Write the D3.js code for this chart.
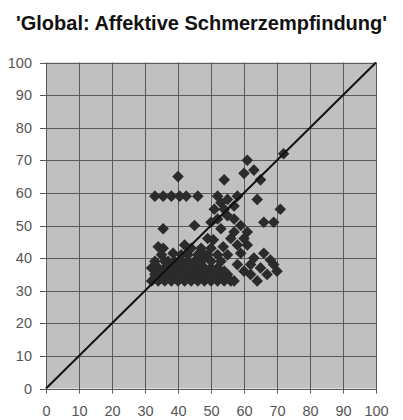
<!DOCTYPE html>
<html>
<head>
<meta charset="utf-8">
<script src="https://cdn.jsdelivr.net/npm/d3@7/dist/d3.min.js"></script>
<style>
  html, body { margin: 0; padding: 0; background: #fff; }
  svg { display: block; }
</style>
</head>
<body>
<div id="chart"></div>
<script>
// Title and axis ticks
const title = "'Global: Affektive Schmerzempfindung'";
const tickValues = [0, 10, 20, 30, 40, 50, 60, 70, 80, 90, 100];

// Scatter values: x = first rating, y = second rating
const xValues = [
  40, 33, 35.5, 38, 40.5, 42.5, 46,
  54, 61, 72, 60, 63, 65, 64, 58, 71, 66, 69,
  52, 53, 55, 51, 54, 57,
  35.5, 45, 50, 52, 55, 57, 59, 53, 57, 61, 60, 61,
  35.5, 38.5, 48.7, 50.7, 53.7, 56, 58, 55,
  66, 68, 69, 70, 64, 57, 60, 58, 62, 59, 63, 65, 67, 62, 54,
  32, 34, 36, 38, 40, 42, 44, 46, 48, 50, 52, 54, 56,
  33, 35, 37, 39, 41, 43, 45, 47, 49, 51, 53, 55,
  34, 36, 38, 40, 42, 44, 46, 48, 50, 52,
  36, 39, 41, 43, 45, 47, 50, 53,
  41, 43, 46, 49, 52,
  44, 47, 50,
  32, 33, 34, 35, 37, 34, 42, 47, 49
];
const yValues = [
  65, 59, 59, 59, 59, 59, 59,
  64, 70, 72, 66, 67, 64, 58, 59, 55, 51, 51,
  59, 57, 58, 55, 55, 56,
  49, 50, 51, 52, 53, 52, 50, 49, 48, 48, 46, 44,
  43, 41.5, 40.4, 45.6, 43.5, 46, 44, 41,
  41.5, 39.4, 38, 36, 33, 33, 36, 38, 38, 41.5, 40, 37, 35, 35, 36,
  33, 33, 33, 33, 33, 33, 33, 33, 33, 33, 33, 33, 33,
  35, 35, 35, 35, 35, 35, 35, 35, 35, 35, 35, 35,
  37, 37, 37, 37, 37, 37, 37, 37, 37, 37,
  39, 39, 39, 39, 39, 39, 39, 39,
  41, 41, 41, 41, 41,
  43, 43, 43,
  37, 39, 36, 41, 39, 43.5, 44, 42, 46
];

const W = 403, H = 420;
const plot = { left: 46, right: 376, top: 62.5, bottom: 388.5 };

const svg = d3.select("#chart").append("svg")
  .attr("width", W).attr("height", H);

const x = d3.scaleLinear().domain([0, 100]).range([plot.left, plot.right]);
const y = d3.scaleLinear().domain([0, 100]).range([plot.bottom, plot.top]);

// Title
svg.append("text")
  .attr("x", W / 2).attr("y", 30)
  .attr("text-anchor", "middle")
  .attr("font-family", "'Liberation Sans', Arial, sans-serif")
  .attr("font-weight", "bold")
  .attr("font-size", 20)
  .attr("fill", "#111")
  .text(title);

// Plot background
svg.append("rect")
  .attr("x", plot.left).attr("y", plot.top)
  .attr("width", plot.right - plot.left).attr("height", plot.bottom - plot.top)
  .attr("fill", "#c0c0c0");

// Grid lines, extended past the plot edge as tick marks
const grid = svg.append("g").attr("stroke", "#5a5a5a").attr("stroke-width", 1);
grid.selectAll(".gx").data(tickValues).join("line")
  .attr("x1", d => Math.round(x(d)) + 0.5).attr("x2", d => Math.round(x(d)) + 0.5)
  .attr("y1", plot.top).attr("y2", plot.bottom + 5);
grid.selectAll(".gy").data(tickValues).join("line")
  .attr("x1", plot.left - 6).attr("x2", plot.right)
  .attr("y1", d => Math.round(y(d)) + 0.5).attr("y2", d => Math.round(y(d)) + 0.5);

// Axes tick labels
const xAxis = d3.axisBottom(x).tickValues(tickValues).tickSize(0).tickPadding(17);
const yAxis = d3.axisLeft(y).tickValues(tickValues).tickSize(0).tickPadding(14);

const gx = svg.append("g").attr("transform", `translate(0,${plot.bottom})`).call(xAxis);
const gy = svg.append("g").attr("transform", `translate(${plot.left},0)`).call(yAxis);
[gx, gy].forEach(g => {
  g.select(".domain").remove();
  g.selectAll("text")
    .attr("font-family", "'Liberation Sans', Arial, sans-serif")
    .attr("font-size", 14.5)
    .attr("fill", "#555");
});

// Data points as diamonds
const points = xValues.map((v, i) => [v, yValues[i]]);
const r = 5.8;
svg.append("g").selectAll("path").data(points).join("path")
  .attr("d", d => {
    const cx = x(d[0]), cy = y(d[1]);
    return `M${cx},${cy - r}L${cx + r},${cy}L${cx},${cy + r}L${cx - r},${cy}Z`;
  })
  .attr("fill", "#2b2b2b");

// Diagonal reference line y = x
svg.append("line")
  .attr("x1", x(0)).attr("y1", y(0))
  .attr("x2", x(100)).attr("y2", y(100))
  .attr("stroke", "#111").attr("stroke-width", 2);
</script>
</body>
</html>
